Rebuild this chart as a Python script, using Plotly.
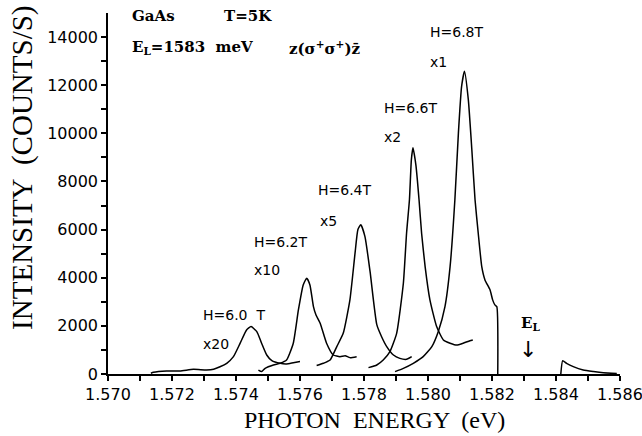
import plotly.graph_objects as go

# ---- data (photon energy in eV, intensity in counts/s, as plotted) ----
E_60 = [1.57134, 1.57142, 1.57183, 1.57225, 1.57267, 1.57308, 1.57330, 1.57350, 1.57371,
        1.57392, 1.57413, 1.57433, 1.57447, 1.57465, 1.57480, 1.57496, 1.57512, 1.57538,
        1.57558, 1.57579, 1.57600]
I_60 = [30, 70, 125, 125, 195, 170, 200, 300, 445, 720, 1280, 1830, 1970, 1760, 1280, 790,
        555, 445, 420, 470, 520]

E_62 = [1.57470, 1.57480, 1.57491, 1.57517, 1.57538, 1.57558, 1.57579, 1.57595, 1.57610,
        1.57621, 1.57631, 1.57642, 1.57650, 1.57663, 1.57683, 1.57704, 1.57725, 1.57741,
        1.57756, 1.57777]
I_62 = [165, 100, 235, 375, 445, 580, 1280, 2660, 3700, 3980, 3700, 2800, 2450, 2110, 1280,
        790, 720, 760, 680, 720]

E_64 = [1.57652, 1.57673, 1.57694, 1.57715, 1.57735, 1.57756, 1.57772, 1.57781, 1.57790,
        1.57803, 1.57819, 1.57840, 1.57855, 1.57871, 1.57892, 1.57912, 1.57933, 1.57949]
I_64 = [350, 445, 580, 1140, 1690, 3080, 5020, 6000, 6200, 5710, 4250, 2050, 1550, 1140,
        790, 650, 610, 720]

E_66 = [1.57814, 1.57840, 1.57860, 1.57881, 1.57902, 1.57923, 1.57933, 1.57942, 1.57948,
        1.57953, 1.57962, 1.57972, 1.57980, 1.57991, 1.58006, 1.58027, 1.58048, 1.58069,
        1.58090, 1.58110, 1.58131, 1.58140]
I_66 = [265, 375, 580, 930, 1690, 3770, 5850, 7240, 8900, 9400, 8700, 7240, 5850, 4460,
        3080, 1970, 1415, 1280, 1200, 1280, 1385, 1415]

E_68 = [1.57897, 1.57923, 1.57954, 1.57985, 1.58012, 1.58032, 1.58053, 1.58069, 1.58084,
        1.58095, 1.58105, 1.58114, 1.58126, 1.58137, 1.58147, 1.58157, 1.58168, 1.58178,
        1.58194, 1.58202, 1.58209, 1.58215, 1.58218]
I_68 = [100, 235, 445, 720, 1140, 1760, 2800, 4460, 7240, 10010, 11950, 12580, 11400, 9320,
        7240, 5850, 4460, 3910, 3490, 3080, 2870, 2800, 0]

E_68b = [1.58415, 1.58421, 1.58433, 1.58454, 1.58485, 1.58517, 1.58548, 1.58590]
I_68b = [0, 555, 445, 305, 165, 100, 50, 20]

x_major = [round(1.570 + 0.002 * i, 3) for i in range(9)]
x_labels = ["%.3f" % v for v in x_major]
x_minor = [round(1.571 + 0.002 * i, 3) for i in range(8)]
y_major = list(range(0, 15000, 2000))
y_labels = [str(v) for v in y_major]
y_minor = list(range(1000, 15000, 2000))

series = [
    ("H=6.0 T x20", E_60, I_60),
    ("H=6.2T x10", E_62, I_62),
    ("H=6.4T x5", E_64, I_64),
    ("H=6.6T x2", E_66, I_66),
    ("H=6.8T x1", E_68, I_68),
    ("H=6.8T x1 (above E_L)", E_68b, I_68b),
]

fig = go.Figure()
for name, xs, ys in series:
    fig.add_trace(go.Scatter(x=xs, y=ys, mode="lines", name=name,
                             line=dict(color="black", width=1.5, shape="spline", smoothing=0.5)))

sans = "DejaVu Sans"
serif_b = "DejaVu Serif"
labels = [
    ("H=6.8T", 1.58000, 14211), ("x1", 1.58000, 12964),
    ("H=6.6T", 1.57856, 11053), ("x2", 1.57856, 9848),
    ("H=6.4T", 1.57650, 7645), ("x5", 1.57656, 6357),
    ("H=6.2T", 1.57450, 5485), ("x10", 1.57450, 4321),
    ("H=6.0  T", 1.57290, 2452), ("x20", 1.57290, 1247),
]
ann = []
for t, x, y in labels:
    ann.append(dict(x=x, y=y, text=t, showarrow=False, xanchor="left", yanchor="middle",
                    font=dict(family=sans, size=14, color="black")))

for t, x, y in [("<b>GaAs</b>", 1.57069, 14875), ("<b>T=5K</b>", 1.57356, 14875),
                ("<b>E<sub>L</sub>=1583  meV</b>", 1.57069, 13546),
                ("<b>z(σ<sup>+</sup>σ<sup>+</sup>)z\u0304</b>", 1.57559, 13546)]:
    ann.append(dict(x=x, y=y, text=t, showarrow=False, xanchor="left", yanchor="middle",
                    font=dict(family=serif_b, size=15, color="black")))

ann.append(dict(x=1.58319, y=2119, text="<b>E<sub>L</sub></b>", showarrow=False,
                xanchor="center", yanchor="middle",
                font=dict(family=serif_b, size=15, color="black")))
ann.append(dict(x=1.58312, y=1000, text="↓", showarrow=False,
                xanchor="center", yanchor="middle",
                font=dict(family="DejaVu Sans", size=22, color="black")))

ann.append(dict(xref="paper", yref="paper", x=0.521, y=-0.128, text="PHOTON  ENERGY  (eV)",
                showarrow=False, xanchor="center", yanchor="middle",
                font=dict(family="Liberation Serif", size=24, color="black")))
ann.append(dict(xref="paper", yref="paper", x=-0.166, y=0.571, text="INTENSITY  (COUNTS/S)",
                showarrow=False, xanchor="center", yanchor="middle", textangle=-90,
                font=dict(family="Liberation Serif", size=29, color="black")))

tick_style = dict(ticks="outside", ticklen=5, tickwidth=1.5, tickcolor="black")
fig.update_layout(
    width=642, height=436,
    margin=dict(l=108, r=22, t=13, b=62, autoexpand=False),
    paper_bgcolor="white", plot_bgcolor="white",
    showlegend=False,
    annotations=ann,
    xaxis=dict(range=[1.570, 1.586], tickmode="array", tickvals=x_major, ticktext=x_labels,
               minor=dict(tickmode="array", tickvals=x_minor, **tick_style),
               showline=True, linecolor="black", linewidth=1.5, showgrid=False,
               zeroline=False, ticklabeloverflow="allow", automargin=False,
               tickfont=dict(family=sans, size=16, color="black"),
               **tick_style),
    yaxis=dict(range=[0, 15000], tickmode="array", tickvals=y_major, ticktext=y_labels,
               minor=dict(tickmode="array", tickvals=y_minor, **tick_style),
               showline=True, linecolor="black", linewidth=1.5, showgrid=False,
               zeroline=False, automargin=False,
               tickfont=dict(family=sans, size=16, color="black"),
               **tick_style),
)

fig.write_html("out.html")
